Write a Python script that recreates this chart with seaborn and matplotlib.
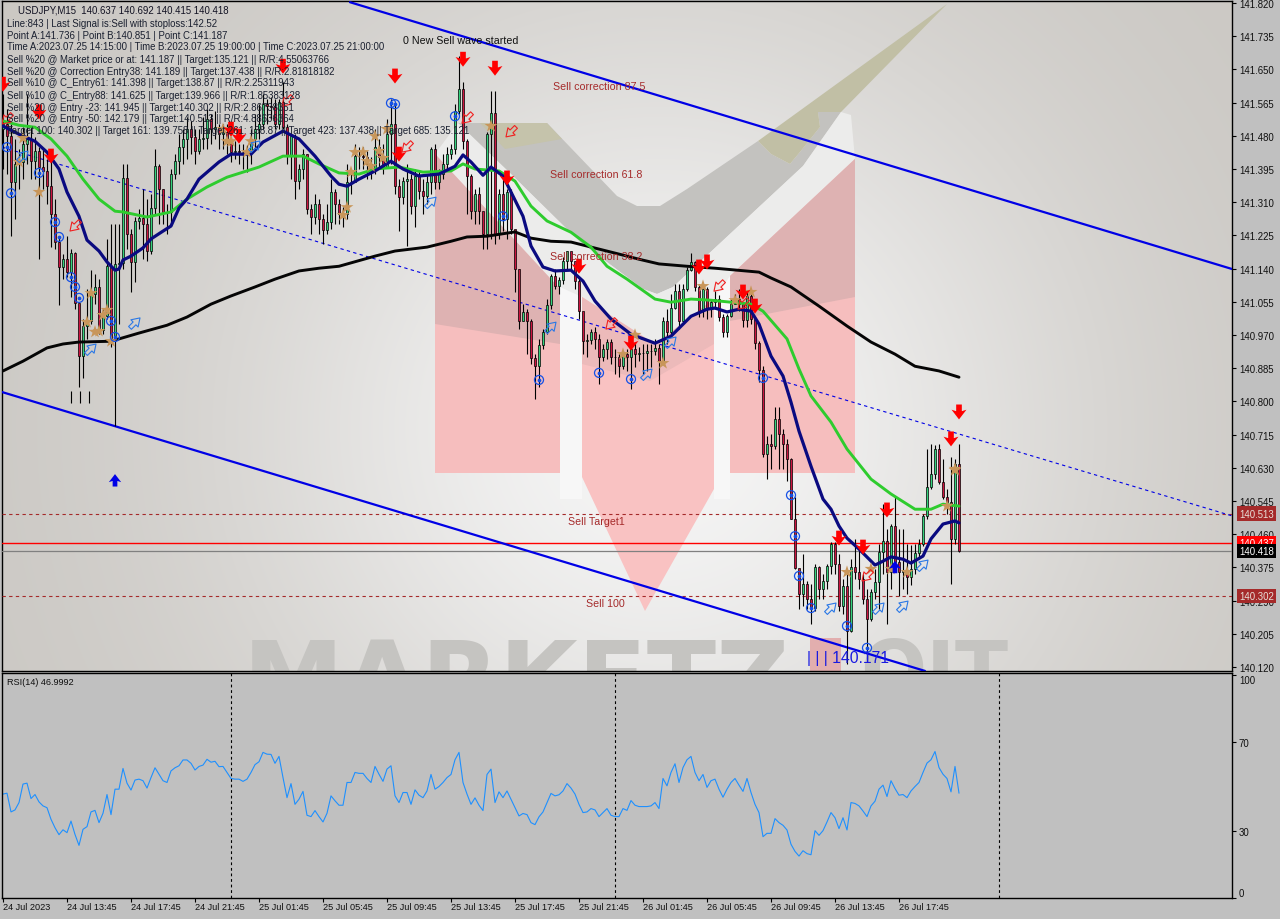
import numpy as np
import pandas as pd
import matplotlib
matplotlib.use("Agg")
import matplotlib.pyplot as plt
from matplotlib.path import Path
from matplotlib.transforms import Affine2D
import seaborn as sns

# ====================== DATA ======================
closes = [141.510,141.479,141.362,141.408,141.413,141.459,141.472,141.415,141.441,141.400,
141.390,141.351,141.280,141.208,141.144,141.164,141.131,141.180,141.052,140.916,
140.993,141.006,141.075,141.093,140.983,141.018,141.146,140.960,141.152,141.154,
141.372,141.228,141.157,141.262,141.269,141.254,141.185,141.295,141.402,141.344,
141.285,141.285,141.382,141.415,141.451,141.472,141.497,141.477,141.441,141.472,
141.474,141.523,141.497,141.502,141.484,141.490,141.464,141.438,141.441,141.438,
141.438,141.441,141.472,141.497,141.510,141.561,141.556,141.554,141.510,141.566,
141.502,141.428,141.479,141.364,141.395,141.433,141.292,141.272,141.305,141.267,
141.239,141.259,141.336,141.305,141.280,141.280,141.362,141.362,141.428,141.428,
141.426,141.408,141.395,141.451,141.426,141.400,141.484,141.510,141.351,141.323,
141.364,141.369,141.300,141.377,141.338,141.326,141.362,141.446,141.362,141.382,
141.408,141.433,141.446,141.543,141.600,141.466,141.377,141.287,141.331,141.287,
141.228,141.484,141.538,141.228,141.331,141.267,141.336,141.241,141.139,141.006,
141.029,141.006,140.911,140.890,140.944,140.978,141.047,141.121,141.095,141.111,
141.159,141.185,141.159,141.108,141.031,140.954,140.957,140.978,140.960,140.914,
140.934,140.952,140.914,140.914,140.890,140.921,140.914,140.934,140.921,140.924,
140.924,140.929,140.929,140.937,140.903,141.006,140.978,141.039,141.082,141.006,
141.088,141.136,141.157,141.093,141.031,141.088,141.036,141.054,141.062,141.016,
140.978,141.018,141.049,141.062,141.049,141.008,141.070,141.011,140.949,140.880,
140.665,140.691,140.686,140.755,140.716,140.691,140.652,140.499,140.373,140.307,
140.332,140.294,140.271,140.376,140.320,140.340,140.378,140.435,140.384,140.276,
140.327,140.212,140.376,140.363,140.345,140.294,140.243,140.312,140.338,140.414,
140.442,140.363,140.481,140.389,140.363,140.366,140.350,140.371,140.412,140.435,
140.506,140.581,140.614,140.678,140.594,140.555,140.542,140.448,140.640,140.418]
first_open = 141.497
highs = [141.587,141.548,141.510,141.472,141.446,141.502,141.587,141.505,141.477,141.451,
141.446,141.420,141.420,141.318,141.223,141.177,141.223,141.190,141.182,141.049,
141.011,141.088,141.136,141.126,141.113,141.036,141.216,141.254,141.254,141.254,
141.408,141.408,141.241,141.272,141.292,141.344,141.318,141.331,141.446,141.408,
141.344,141.305,141.395,141.433,141.484,141.497,141.528,141.518,141.497,141.497,
141.528,141.548,141.536,141.543,141.510,141.510,141.510,141.477,141.466,141.459,
141.459,141.456,141.497,141.536,141.561,141.587,141.574,141.579,141.574,141.574,
141.618,141.510,141.484,141.484,141.408,141.446,141.433,141.305,141.331,141.318,
141.280,141.305,141.369,141.344,141.318,141.297,141.408,141.395,141.459,141.451,
141.451,141.441,141.426,141.497,141.472,141.459,141.523,141.574,141.561,141.369,
141.374,141.408,141.382,141.395,141.390,141.369,141.382,141.451,141.459,141.395,
141.433,141.451,141.459,141.561,141.684,141.618,141.472,141.382,141.344,141.349,
141.280,141.490,141.594,141.594,141.344,141.369,141.344,141.344,141.234,141.139,
141.049,141.036,141.011,140.921,140.960,140.985,141.062,141.126,141.139,141.118,
141.170,141.185,141.177,141.152,141.118,141.024,140.972,140.985,140.990,140.972,
140.947,140.960,140.960,140.934,140.921,140.929,140.934,140.972,140.952,140.939,
140.947,140.947,140.947,140.960,140.947,141.016,141.036,141.075,141.100,141.100,
141.100,141.144,141.180,141.159,141.100,141.100,141.093,141.062,141.082,141.072,
141.024,141.024,141.062,141.075,141.088,141.054,141.082,141.075,141.016,140.954,
140.890,140.711,140.716,140.786,140.786,140.729,140.704,140.655,140.555,140.371,
140.409,140.340,140.332,140.384,140.378,140.358,140.384,140.440,140.440,140.409,
140.345,140.358,140.396,140.448,140.427,140.358,140.320,140.320,140.371,140.435,
140.537,140.473,140.486,140.555,140.473,140.473,140.435,140.432,140.435,140.448,
140.512,140.678,140.691,140.688,140.691,140.652,140.576,140.658,140.652,140.692]
lows = [141.395,141.382,141.223,141.267,141.344,141.369,141.408,141.369,141.369,141.164,
141.344,141.305,141.195,141.190,141.047,141.113,141.118,141.067,141.036,140.837,
140.860,140.960,140.998,141.049,140.972,140.972,141.011,140.939,140.737,140.998,
141.139,141.190,141.080,141.106,141.241,141.164,141.159,141.177,141.280,141.254,
141.254,141.228,141.254,141.369,141.382,141.408,141.420,141.433,141.408,141.433,
141.446,141.446,141.459,141.472,141.446,141.446,141.433,141.413,141.420,141.408,
141.395,141.387,141.408,141.446,141.472,141.497,141.510,141.523,141.497,141.497,
141.497,141.408,141.369,141.318,141.344,141.369,141.280,141.228,141.254,141.228,
141.203,141.228,141.241,141.254,141.254,141.246,141.267,141.331,141.382,141.395,
141.395,141.369,141.369,141.382,141.395,141.382,141.408,141.408,141.331,141.236,
141.305,141.198,141.280,141.246,141.318,141.280,141.305,141.331,141.344,141.344,
141.369,141.395,141.420,141.433,141.536,141.446,141.280,141.267,141.254,141.254,
141.190,141.190,141.216,141.203,141.216,141.236,141.216,141.228,141.080,140.985,
141.006,140.921,140.896,140.806,140.837,140.934,140.972,141.036,141.088,141.075,
141.100,141.139,141.139,141.088,141.011,140.921,140.914,140.947,140.934,140.844,
140.903,140.908,140.896,140.870,140.862,140.883,140.878,140.832,140.888,140.903,
140.870,140.878,140.888,140.919,140.844,140.901,140.947,140.972,141.036,140.985,
140.998,141.082,141.134,141.082,141.016,141.016,141.011,141.016,141.036,141.006,
140.965,140.965,141.016,141.049,141.031,140.990,140.990,140.998,140.934,140.850,
140.658,140.601,140.627,140.678,140.627,140.627,140.596,140.499,140.371,140.268,
140.276,140.268,140.230,140.263,140.294,140.294,140.320,140.358,140.358,140.263,
140.256,140.128,140.210,140.345,140.320,140.281,140.140,140.238,140.294,140.268,
140.358,140.230,140.320,140.371,140.302,140.320,140.307,140.330,140.358,140.396,
140.430,140.499,140.576,140.601,140.588,140.550,140.512,140.332,140.435,140.415]

rsi_values = [46.6,47.0,38.6,39.5,42.8,51.1,51.5,44.6,46.4,43.1,41.3,40.5,35.3,31.5,28.4,30.6,29.3,34.5,28.5,23.6,
30.8,32.0,38.6,39.3,33.8,38.0,46.4,37.4,48.8,48.8,58.1,51.5,48.4,52.9,53.3,52.6,49.3,54.0,58.4,55.5,
52.6,51.8,57.0,58.4,59.3,61.9,61.9,60.4,57.4,59.0,59.6,62.2,60.9,61.3,58.9,59.0,56.3,53.6,53.3,53.3,
52.3,53.3,56.3,59.8,61.1,65.3,64.5,64.4,60.4,63.5,54.0,45.0,51.3,42.0,44.3,47.8,37.1,36.5,39.2,36.5,
34.1,38.0,45.8,43.6,41.6,41.6,51.8,51.8,56.3,55.9,55.9,53.6,51.8,59.0,55.5,52.3,57.8,59.3,45.8,42.8,
47.3,47.3,42.0,48.5,46.1,45.0,48.0,55.4,48.8,50.0,51.8,54.0,55.4,62.0,65.3,51.8,46.6,42.0,44.9,41.6,
39.2,55.4,57.8,42.8,47.6,45.0,48.0,44.3,40.5,36.8,37.9,37.4,33.8,32.9,36.4,38.6,42.8,46.9,45.8,46.3,
48.0,51.3,49.3,46.6,42.0,38.3,38.6,40.1,39.5,36.5,38.3,40.1,37.1,36.5,36.5,40.1,39.3,43.7,41.6,41.0,
41.0,41.0,41.3,42.8,40.1,53.6,50.3,56.3,60.2,51.8,58.5,62.0,63.5,56.3,52.6,55.4,49.6,52.6,53.3,48.8,
45.2,48.8,51.8,53.6,50.6,47.8,53.6,47.3,42.0,38.3,27.5,29.0,29.0,35.6,33.8,32.6,30.5,24.1,20.9,18.8,
21.2,19.9,19.4,30.2,28.1,30.2,34.1,38.3,36.0,31.1,36.0,30.5,42.8,42.4,41.3,39.0,36.5,41.3,43.4,48.8,
50.6,45.5,52.6,49.1,46.1,46.4,45.0,48.0,50.0,51.8,56.3,60.5,62.0,65.7,58.5,55.5,53.6,47.6,59.0,47.0]

navy_bars = [0,4,8,11,14,16,19,21,24,26,28,29,30,32,35,37,40,42,44,46,49,54,57,62,65,70,74,78,82,84,86,89,93,97,100,
104,109,113,115,117,120,122,125,127,130,132,135,138,142,145,148,152,157,163,167,172,176,178,181,184,187,189,192,195,
197,199,202,205,207,209,211,214,218,220,222,225,227,230,232,235,238,239]
navy_prices = [141.505,141.484,141.466,141.438,141.395,141.336,141.274,141.213,141.185,141.157,141.136,141.139,141.162,
141.172,141.193,141.216,141.236,141.249,141.295,141.318,141.369,141.413,141.433,141.433,141.464,141.492,141.472,141.428,
141.377,141.356,141.351,141.369,141.390,141.415,141.395,141.377,141.382,141.402,141.431,141.413,141.379,141.400,141.377,
141.336,141.274,141.198,141.144,141.134,141.136,141.108,141.057,141.011,140.972,140.949,140.967,141.018,141.036,141.039,
141.029,141.036,141.031,140.998,140.916,140.865,140.798,140.724,140.634,140.550,140.524,140.481,140.450,140.422,140.381,
140.391,140.402,140.396,140.386,140.404,140.448,140.486,140.494,140.489]
green_bars = [0,4,8,12,16,20,24,28,30,36,42,46,51,56,64,70,75,79,84,89,93,99,105,112,115,118,124,128,132,136,142,147,151,
156,163,167,172,177,182,187,190,196,199,202,207,211,217,222,228,232,235,239]
green_prices = [141.518,141.507,141.502,141.472,141.428,141.369,141.318,141.287,141.285,141.272,141.285,141.318,141.349,
141.374,141.400,141.428,141.428,141.408,141.385,141.382,141.395,141.400,141.387,141.390,141.408,141.395,141.390,141.364,
141.300,141.262,141.233,141.195,141.146,141.113,141.062,141.054,141.062,141.059,141.054,141.049,141.031,140.960,140.883,
140.814,140.747,140.678,140.601,140.563,140.524,140.524,140.537,140.532]
black_bars = [0,5,11,15,19,27,34,41,46,52,57,63,68,74,79,84,93,98,106,112,116,121,128,132,137,142,149,156,159,164,171,178,
189,192,197,204,211,217,223,228,234,239]
black_prices = [140.878,140.903,140.937,140.947,140.952,140.954,140.975,140.995,141.016,141.049,141.070,141.093,141.113,
141.134,141.141,141.146,141.172,141.185,141.195,141.210,141.221,141.223,141.234,141.218,141.210,141.208,141.190,141.172,
141.164,141.152,141.146,141.141,141.131,141.116,141.093,141.044,140.993,140.952,140.921,140.890,140.878,140.862]

sell_bars = [0,9,12,70,57,59,98,115,123,99,126,144,157,174,176,185,188,237,239,209,215,221]
sell_prices = [141.612,141.541,141.428,141.658,141.497,141.479,141.633,141.676,141.653,141.433,141.372,141.146,140.949,
141.144,141.157,141.080,141.044,140.704,140.773,140.450,140.427,140.522]
buy_bars = [28,223]
buy_prices = [140.598,140.376]
circle_bars = [1,2,9,13,14,17,18,19,27,28,97,98,113,125,134,149,157,190,197,198,199,202,211,216]
circle_prices = [141.451,141.333,141.385,141.259,141.221,141.118,141.093,141.065,141.006,140.965,141.564,141.561,141.530,
141.274,140.855,140.873,140.857,140.860,140.560,140.455,140.353,140.271,140.225,140.169]
star_bars = [5,4,9,56,57,61,62,55,22,21,23,24,25,26,27,85,86,87,88,90,91,92,93,94,95,96,122,155,158,165,175,183,187,238,211,217,222,226,236,238]
star_prices = [141.474,141.413,141.336,141.466,141.466,141.438,141.466,141.497,141.077,141.003,140.978,140.980,141.021,141.034,
140.954,141.277,141.297,141.387,141.438,141.438,141.415,141.402,141.479,141.441,141.423,141.497,141.505,140.921,140.970,
140.898,141.095,141.059,141.080,140.627,140.363,140.371,140.371,140.363,140.532,140.624]
hollow_buy_bars = [22,33,5,63,107,137,161,167,207,219,225,230]
hollow_buy_prices = [140.934,141.001,141.428,141.454,141.310,140.990,140.870,140.952,140.271,140.271,140.276,140.381]
hollow_sell_bars = [18,71,1,101,116,127,152,179,185,216]
hollow_sell_prices = [141.249,141.569,141.523,141.451,141.525,141.490,140.998,141.095,141.049,140.353]

channel_top_bars = [86.75,307.25]
channel_top_prices = [141.822,141.139]
channel_low_bars = [-0.25,230.5]
channel_low_prices = [140.824,140.110]
channel_mid_bars = [-0.25,307.25]
channel_mid_prices = [141.451,140.507]

price_ticks = [141.820,141.735,141.650,141.565,141.480,141.395,141.310,141.225,141.140,141.055,140.970,
               140.885,140.800,140.715,140.630,140.545,140.460,140.375,140.290,140.205,140.120]
rsi_ticks = [100,70,30,0]
date_ticks = [0,16,32,48,64,80,96,112,128,144,160,176,192,208,224]
date_labels = ["24 Jul 2023","24 Jul 13:45","24 Jul 17:45","24 Jul 21:45","25 Jul 01:45","25 Jul 05:45","25 Jul 09:45",
               "25 Jul 13:45","25 Jul 17:45","25 Jul 21:45","26 Jul 01:45","26 Jul 05:45","26 Jul 09:45","26 Jul 13:45","26 Jul 17:45"]
day_breaks = [57,153,249]

info_lines = ["Line:843 | Last Signal is:Sell with stoploss:142.52",
              "Point A:141.736 | Point B:140.851 | Point C:141.187",
              "Time A:2023.07.25 14:15:00 | Time B:2023.07.25 19:00:00 | Time C:2023.07.25 21:00:00",
              "Sell %20 @ Market price or at: 141.187 || Target:135.121 || R/R:4.55063766",
              "Sell %20 @ Correction Entry38: 141.189 || Target:137.438 || R/R:2.81818182",
              "Sell %10 @ C_Entry61: 141.398 || Target:138.87 || R/R:2.25311943",
              "Sell %10 @ C_Entry88: 141.625 || Target:139.966 || R/R:1.85383128",
              "Sell %20 @ Entry -23: 141.945 || Target:140.302 || R/R:2.86738351",
              "Sell %20 @ Entry -50: 142.179 || Target:140.513 || R/R:4.88636364",
              "Target 100: 140.302 || Target 161: 139.758 || Target 261: 138.87 || Target 423: 137.438 || Target 685: 135.121"]

# ====================== SETUP ======================
W, H = 1280, 920
sns.set_theme(style="white")
plt.rcParams['font.family'] = ['Liberation Sans', 'DejaVu Sans']

def px_x(x):
    return (np.asarray(x, dtype=float) - 3) / 4

def px_y(y):
    return 141.82 - (np.asarray(y, dtype=float) - 4) / 390.6

def panel(fig, left, top, right, bottom):
    return fig.add_axes([left / W, 1 - bottom / H, (right - left) / W, (bottom - top) / H])

def shape(ax, pts, color, z=1):
    xs, ys = zip(*pts)
    ax.fill(px_x(xs), px_y(ys), color=color, lw=0, zorder=z)

fig = plt.figure(figsize=(W / 100, H / 100), dpi=100, facecolor='#c0c0c0')

# soft glow behind the price panel
ax_bg = panel(fig, 2, 2, 1232, 672)
gx, gy = np.meshgrid(np.linspace(2, 1232, 308), np.linspace(2, 672, 168))
glow = np.exp(-(((gx - 660) / 430) ** 2 + ((gy - 430) / 420) ** 2))
tone = 0.79 + 0.17 * glow
ax_bg.imshow(np.dstack([tone, tone - 0.012 * (1 - glow), tone - 0.03 * (1 - glow)]).clip(0, 1),
             aspect='auto', interpolation='bilinear')
ax_bg.axis('off')

ax = panel(fig, 2, 2, 1232, 672)
ax.patch.set_alpha(0)
xlim = (px_x(2), px_x(1232))
ax.set_xlim(*xlim)
ax.set_ylim(px_y(672), px_y(2))

# ====================== WATERMARK ======================
shape(ax, [(458,124),(547,124),(617,197),(637,207),(660,207),(687,190),(758,142),(771,155),(790,165),(800,153),(820,128),
           (818,113),(841,113),(803,167),(673,288),(657,295),(643,290),(580,243),(513,177)], '#c3c2bf')
shape(ax, [(947,5),(841,113),(818,113),(820,128),(800,153),(790,165),(771,155),(758,142)], '#c1bfa5')
shape(ax, [(480,124),(547,124),(562,140),(505,150)], '#c5c3ab')
shape(ax, [(458,124),(513,177),(580,243),(643,290),(657,295),(673,288),(803,167),(841,113),(851,116),(855,160),(730,277),
           (714,300),(655,345),(582,298),(560,290),(435,155)], '#ececeb')
shape(ax, [(560,288),(582,298),(582,500),(560,500)], '#f7f7f7')
shape(ax, [(714,300),(730,277),(730,500),(714,500)], '#f7f7f7')

pink, pink_top = '#f6bebe', '#deb2b2'
shape(ax, [(435,155),(560,290),(560,474),(435,474)], pink, 2)
shape(ax, [(435,155),(560,290),(560,345),(435,325)], pink_top, 2)
shape(ax, [(582,298),(655,345),(714,300),(714,490),(645,612),(582,478)], '#f9c2c2', 2)
shape(ax, [(582,298),(655,345),(714,300),(714,345),(650,382),(582,365)], '#ecbaba', 2)
shape(ax, [(730,277),(855,160),(855,474),(730,474)], pink, 2)
shape(ax, [(730,277),(855,160),(855,298),(730,322)], pink_top, 2)
shape(ax, [(810,639),(841,639),(841,672),(810,672)], '#e2aeae', 2)
letters = dict(fontweight='bold', color='#c5c4c1', clip_on=True, zorder=1, ha='left', va='baseline', family='DejaVu Sans')
ax.text(px_x(243), px_y(714), "MARKETZ", fontsize=73, **letters)
ax.text(px_x(860), px_y(697), "OIT", fontsize=56, **letters)

# ====================== PRICE LEVELS AND CHANNEL ======================
level_color = '#a52a2a'
ax.axhline(140.513, color=level_color, ls=(0, (3, 3)), lw=0.8, zorder=3)
ax.axhline(140.302, color=level_color, ls=(0, (3, 3)), lw=0.8, zorder=3)
ax.axhline(140.437, color='#ff0000', lw=1.0, zorder=3)
ax.axhline(140.418, color='#808080', lw=0.9, zorder=3)

sns.lineplot(x=channel_top_bars, y=channel_top_prices, color='#0000e6', lw=1.6, ax=ax, zorder=3, errorbar=None)
sns.lineplot(x=channel_low_bars, y=channel_low_prices, color='#0000e6', lw=1.6, ax=ax, zorder=3, errorbar=None)
sns.lineplot(x=channel_mid_bars, y=channel_mid_prices, color='#0000e6', lw=0.8, ls=(0, (3, 3)), ax=ax, zorder=3, errorbar=None)

# ====================== CANDLES ======================
df = pd.DataFrame({'close': closes, 'high': highs, 'low': lows})
df['open'] = df['close'].shift(1).fillna(first_open)
df['bar'] = np.arange(len(df))
df['bull'] = df['close'] >= df['open']
ax.vlines(df['bar'], df['low'], df['high'], color='black', lw=0.8, zorder=4)
ax.bar(df['bar'], (df['close'] - df['open']).abs(), bottom=df[['open', 'close']].min(axis=1), width=0.72,
       color=df['bull'].map({True: '#34d27c', False: '#cc1440'}), edgecolor='black', lw=0.5, zorder=4)

# ====================== MOVING AVERAGES ======================
sns.lineplot(x=black_bars, y=black_prices, color='#050505', lw=2.1, ax=ax, zorder=5, errorbar=None)
sns.lineplot(x=green_bars, y=green_prices, color='#2ecc2e', lw=2.1, ax=ax, zorder=5, errorbar=None)
sns.lineplot(x=navy_bars, y=navy_prices, color='#0a0a80', lw=2.3, ax=ax, zorder=6, errorbar=None)

# ====================== SIGNALS ======================
down_arrow = Path([(-0.38,1),(0.38,1),(0.38,0.1),(1,0.3),(0,-1),(-1,0.3),(-0.38,0.1),(-0.38,1)], closed=True)
up_arrow = Path([(-0.38,-1),(0.38,-1),(0.38,-0.1),(1,-0.3),(0,1),(-1,-0.3),(-0.38,-0.1),(-0.38,-1)], closed=True)
thin_arrow = Path([(-0.28,-1),(0.28,-1),(0.28,-0.1),(0.72,-0.1),(0,1),(-0.72,-0.1),(-0.28,-0.1),(-0.28,-1)], closed=True)
up_right = thin_arrow.transformed(Affine2D().rotate_deg(-45))
down_left = thin_arrow.transformed(Affine2D().rotate_deg(135))

sns.scatterplot(x=sell_bars, y=sell_prices, marker=down_arrow, s=115, color='#ff0000', edgecolor='none', ax=ax, zorder=8)
sns.scatterplot(x=buy_bars, y=buy_prices, marker=up_arrow, s=80, color='#0000e6', edgecolor='none', ax=ax, zorder=8)
sns.scatterplot(x=star_bars, y=star_prices, marker='*', s=95, color='#c8965a', edgecolor='none', ax=ax, zorder=7)
ax.scatter(circle_bars, circle_prices, s=42, facecolors='none', edgecolors='#1450e6', linewidths=0.9, zorder=7)
ax.scatter(circle_bars, circle_prices, s=3, color='#1450e6', zorder=7)
ax.scatter(hollow_buy_bars, hollow_buy_prices, marker=up_right, s=85, facecolors='none', edgecolors='#2a78e6', linewidths=0.8, zorder=7)
ax.scatter(hollow_sell_bars, hollow_sell_prices, marker=down_left, s=85, facecolors='none', edgecolors='#f02020', linewidths=0.8, zorder=7)
ax.vlines(px_x([71, 80, 89]), px_y(404), px_y(392), color='black', lw=0.8, zorder=7)

# ====================== LABELS ======================
label_color = '#a52a2a'
for txt, x, y in [("Sell correction 87.5", 553, 87), ("Sell correction 61.8", 550, 175),
                  ("Sell correction 38.2", 550, 257), ("Sell Target1", 568, 522), ("Sell 100", 586, 604)]:
    ax.text(px_x(x), px_y(y), txt, color=label_color, fontsize=7.7, va='center', ha='left', zorder=9)
ax.text(px_x(403), px_y(41), "0 New Sell wave started", color='#111111', fontsize=7.7, va='center', ha='left', zorder=9)
ax.text(px_x(807), px_y(658), "| | | 140.171", color='#1a1ae0', fontsize=11.3, va='center', ha='left', zorder=9)

ax.text(px_x(18), px_y(10.5), "USDJPY,M15  140.637 140.692 140.415 140.418", color='#111122', fontsize=6.9, va='center', ha='left', zorder=9)
for line, y in zip(info_lines, [23.5, 35.5, 47.5, 59.5, 71.5, 83.5, 95.5, 107.5, 119.5, 131.5]):
    ax.text(px_x(7), px_y(y), line, color='#1a2030', fontsize=6.9, va='center', ha='left', zorder=9)

# ====================== PRICE AXIS ======================
ax.yaxis.tick_right()
ax.set_yticks(price_ticks)
ax.set_yticklabels([f"{t:.3f}" for t in price_ticks], fontsize=6.9, color='#101010')
ax.tick_params(axis='y', length=3, width=0.8, color='black', pad=2, right=True)
ax.set_xticks([])
ax.set_xlabel("")
ax.set_ylabel("")
for sp in ax.spines.values():
    sp.set_color('black')
    sp.set_linewidth(1.0)
    sp.set_visible(True)

for val, bg, fg in [(140.513, '#a52a2a', '#e8e0d8'), (140.302, '#a52a2a', '#e8e0d8'),
                    (140.437, '#ff0000', '#ffffff'), (140.418, '#000000', '#ffffff')]:
    ax.annotate(f"{val:.3f}", xy=(1, val), xycoords=('axes fraction', 'data'), xytext=(5, 0), textcoords='offset points',
                fontsize=6.9, color=fg, va='center', ha='left', annotation_clip=False,
                bbox=dict(boxstyle='square,pad=0.22', fc=bg, ec='none'), zorder=10)

# ====================== RSI PANEL ======================
ax_rsi = panel(fig, 2, 674, 1232, 899)
ax_rsi.set_facecolor('#c0c0c0')
sns.lineplot(x=df['bar'], y=rsi_values, color='#1e90ff', lw=0.8, ax=ax_rsi, errorbar=None)
for b in day_breaks:
    ax_rsi.axvline(b, color='black', ls=(0, (2.5, 2.5)), lw=0.8)
ax_rsi.set_xlim(*xlim)
ax_rsi.set_ylim(0, 100.9)
ax_rsi.set_xticks(date_ticks)
ax_rsi.set_xticklabels(date_labels, fontsize=6.6, color='#101010', ha='left')
ax_rsi.yaxis.tick_right()
ax_rsi.set_yticks(rsi_ticks)
rsi_labels = ax_rsi.set_yticklabels([str(t) for t in rsi_ticks], fontsize=6.9, color='#101010')
rsi_labels[0].set_va('top')
rsi_labels[-1].set_va('bottom')
ax_rsi.tick_params(axis='y', length=3, width=0.8, color='black', pad=2, right=True)
ax_rsi.tick_params(axis='x', length=3, width=0.8, color='black', pad=0, bottom=True)
ax_rsi.set_xlabel("")
ax_rsi.set_ylabel("")
for sp in ax_rsi.spines.values():
    sp.set_color('black')
    sp.set_linewidth(1.0)
    sp.set_visible(True)
ax_rsi.text(px_x(7), 97, "RSI(14) 46.9992", color='#101010', fontsize=6.6, va='center', ha='left')

fig.savefig("out.png", dpi=100)
plt.close(fig)
